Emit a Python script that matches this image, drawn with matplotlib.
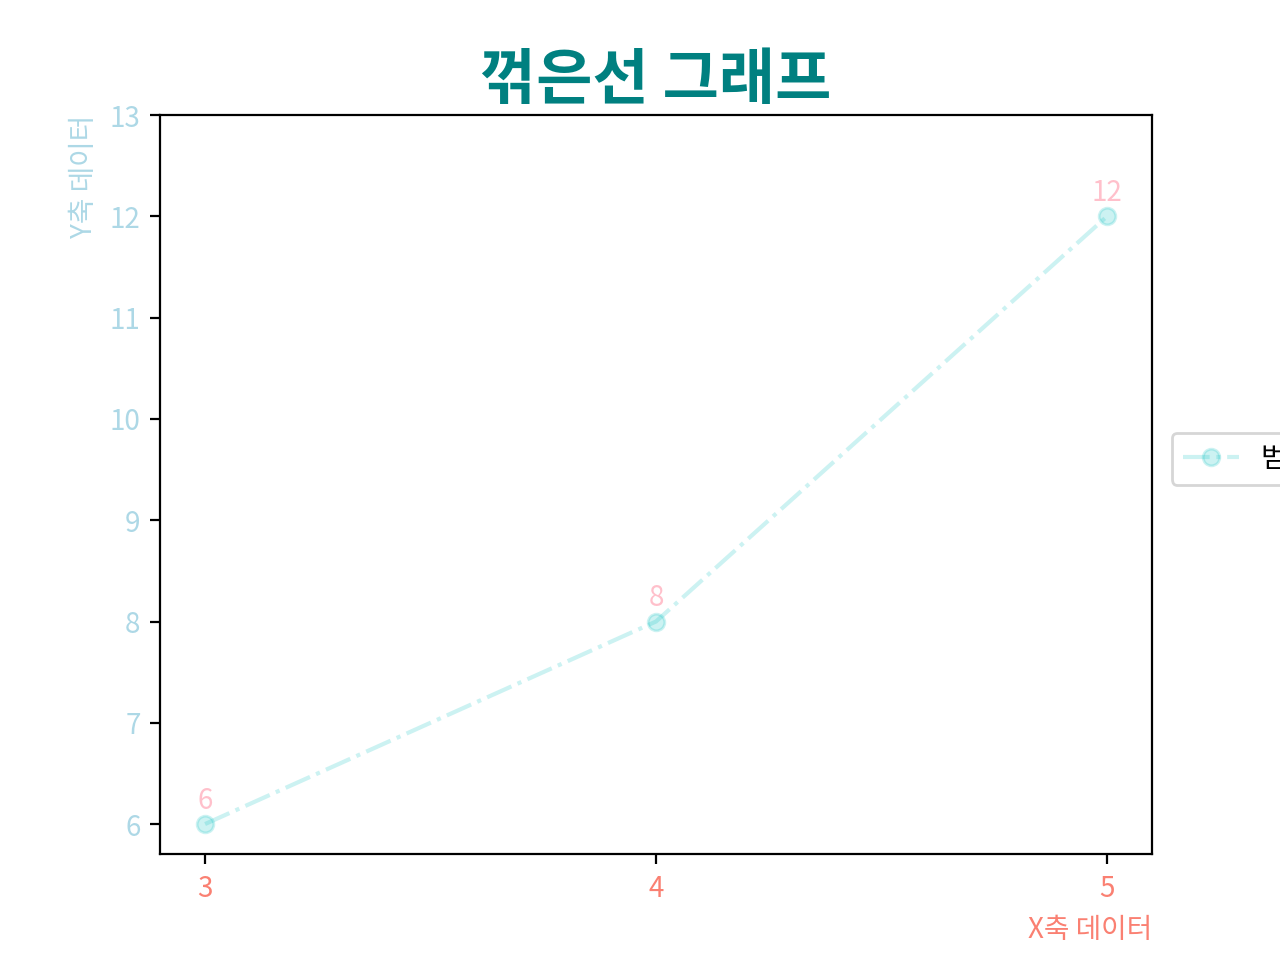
import matplotlib
matplotlib.use('Agg')
import matplotlib.pyplot as plt

plt.rcParams['font.family'] = ['Noto Sans CJK KR', 'DejaVu Sans']
plt.rcParams['axes.unicode_minus'] = False

x = [3, 4, 5]
y = [6, 8, 12]
x_ticks = [3, 4, 5]

fig, ax = plt.subplots(figsize=(6.4, 4.8), dpi=200)

ax.plot(x, y, color='c', alpha=0.2, linestyle='-.', marker='o', label='범례')

# 각 점 위에 값 표시
for xi, yi in zip(x, y):
    ax.annotate(str(yi), (xi, yi), xytext=(0, 3), textcoords='offset points',
                color='pink', ha='center', va='bottom', fontsize=10)

ax.set_ylim(top=13)
ax.set_xticks(x_ticks)
ax.tick_params(axis='x', labelcolor='salmon')
ax.tick_params(axis='y', labelcolor='lightblue')

ax.set_title('꺾은선 그래프', fontsize=22, fontweight='bold', color='teal')
ax.set_xlabel('X축 데이터', color='salmon', loc='right')
ax.set_ylabel('Y축 데이터', color='lightblue', loc='top')

ax.legend(loc='center left', bbox_to_anchor=(1.006, 0.535))

fig.savefig('out.png', dpi=200)
